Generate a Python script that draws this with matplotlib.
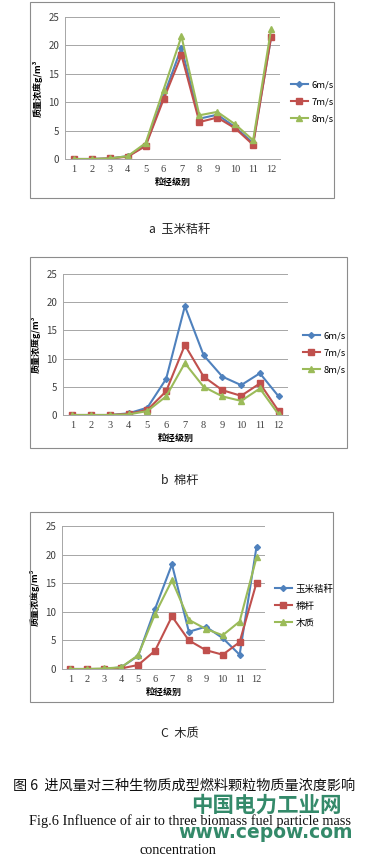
import matplotlib
matplotlib.use('Agg')
import matplotlib.pyplot as plt
from matplotlib.patches import Rectangle

plt.rcParams['font.family'] = ['Noto Sans CJK SC', 'DejaVu Sans']

# data
grades = list(range(1, 13))

corn_6 = [0, 0, 0.1, 0.5, 2.4, 11.0, 19.6, 7.1, 7.8, 5.6, 2.8, 21.4]
corn_7 = [0, 0, 0.1, 0.4, 2.3, 10.5, 18.3, 6.5, 7.3, 5.4, 2.5, 21.4]
corn_8 = [0, 0, 0.1, 0.5, 2.8, 12.2, 21.6, 7.7, 8.3, 6.1, 3.3, 22.8]

cotton_6 = [0, 0, 0, 0.3, 1.3, 6.4, 19.3, 10.6, 6.8, 5.3, 7.4, 3.3]
cotton_7 = [0, 0, 0, 0.2, 0.9, 4.2, 12.4, 6.8, 4.4, 3.4, 5.6, 0.7]
cotton_8 = [0, 0, 0, 0.1, 0.7, 3.3, 9.2, 5.0, 3.3, 2.5, 4.7, 0.1]

wood_corn = [0, 0, 0, 0.3, 2.3, 10.5, 18.3, 6.5, 7.4, 5.4, 2.5, 21.4]
wood_cotton = [0, 0, 0, 0.1, 0.7, 3.2, 9.2, 5.0, 3.3, 2.5, 4.7, 15.1]
wood_wood = [0, 0, 0.1, 0.3, 2.4, 9.6, 15.5, 8.6, 7.0, 5.9, 8.3, 19.5]

speed_labels = ['6m/s', '7m/s', '8m/s']
material_labels = ['玉米秸秆', '棉杆', '木质']
panel_captions = ['a  玉米秸秆', 'b  棉杆', 'C  木质']

colors = ['#4F81BD', '#C0504D', '#9BBB59']
markers = ['D', 's', '^']
msizes = [3, 4.5, 4.5]

W, H = 366, 864
fig = plt.figure(figsize=(W / 100, H / 100), dpi=100)


def fx(px):
    return px / W


def fy(py):
    return 1 - py / H


def panel(box, plot, series, labels, leg_x, leg_y, caption, cap_y):
    # outer frame
    bx0, by0, bx1, by1 = box
    fig.patches.append(Rectangle((fx(bx0), fy(by1)), fx(bx1 - bx0), (by1 - by0) / H,
                                 transform=fig.transFigure, fill=False,
                                 edgecolor='#8c8c8c', linewidth=0.8))
    px0, py0, px1, py1 = plot
    ax = fig.add_axes([fx(px0), fy(py1), fx(px1 - px0), (py1 - py0) / H])
    for vals, lab, c, m, ms in zip(series, labels, colors, markers, msizes):
        ax.plot(grades, vals, color=c, marker=m, markersize=ms, linewidth=1.5, label=lab)
    ax.set_xlim(0.5, 12.5)
    ax.set_ylim(0, 25)
    ax.set_xticks(grades)
    ax.set_yticks([0, 5, 10, 15, 20, 25])
    ax.tick_params(labelsize=7, colors='#404040', length=0, pad=4)
    for t in ax.get_xticklabels():
        t.set_family('Liberation Serif')
        t.set_fontsize(7.5)
    ax.yaxis.grid(True, color='#a6a6a6', linewidth=0.7)
    ax.set_axisbelow(True)
    for s in ['top', 'right']:
        ax.spines[s].set_visible(False)
    for s in ['left', 'bottom']:
        ax.spines[s].set_color('#a6a6a6')
        ax.spines[s].set_linewidth(0.7)
    ax.set_xlabel('粒径级别', fontsize=6.5, fontweight='bold', labelpad=3)
    ax.set_ylabel('质量浓度g/m³', fontsize=6.5, fontweight='bold', labelpad=4)
    ax.legend(loc='center left', bbox_to_anchor=(fx(leg_x), fy(leg_y)),
              bbox_transform=fig.transFigure, frameon=False, fontsize=6.8,
              handlelength=1.8, handletextpad=0.4, labelspacing=0.85, borderaxespad=0)
    fig.text(fx(180), fy(cap_y), caption, fontsize=8.8, ha='center', va='center',
             color='#222222')
    return ax


panel((30, 2, 334, 198), (65, 17, 280, 159), [corn_6, corn_7, corn_8], speed_labels,
      287, 102, panel_captions[0], 229)
panel((30, 257, 347, 448), (63, 274, 288, 415), [cotton_6, cotton_7, cotton_8], speed_labels,
      299, 353, panel_captions[1], 481)
panel((30, 512, 333, 702), (62, 526, 265, 669), [wood_corn, wood_cotton, wood_wood],
      material_labels, 271, 606, panel_captions[2], 734)

fig.text(fx(184), fy(786), '图 6  进风量对三种生物质成型燃料颗粒物质量浓度影响',
         fontsize=10.2, ha='center', va='center', color='#111111')
fig.text(fx(266), fy(805), '中国电力工业网', fontsize=15.5, fontweight='bold',
         ha='center', va='center', color='#1e7d5a', alpha=0.9)
fig.text(fx(266), fy(833), 'www.cepow.com', fontsize=13.5, fontweight='bold',
         ha='center', va='center', color='#1e7d5a', family='DejaVu Sans', alpha=0.9)
fig.text(fx(190), fy(821), 'Fig.6 Influence of air to three biomass fuel particle mass',
         fontsize=10.3, ha='center', va='center', color='#111111', family='Liberation Serif')
fig.text(fx(178), fy(850), 'concentration', fontsize=10.3, ha='center', va='center',
         color='#111111', family='Liberation Serif')

fig.savefig('out.png', dpi=100)
